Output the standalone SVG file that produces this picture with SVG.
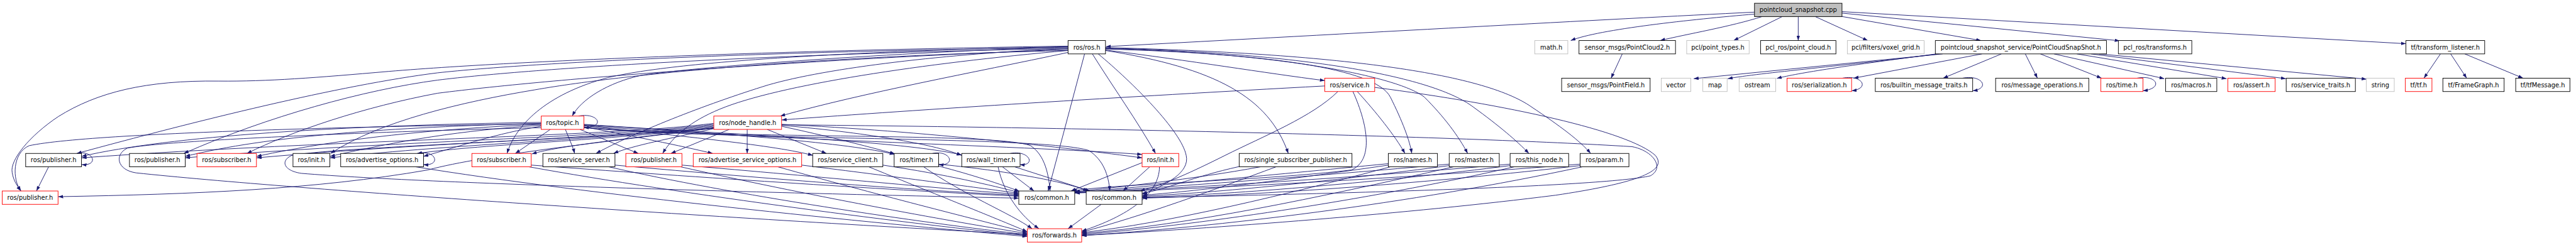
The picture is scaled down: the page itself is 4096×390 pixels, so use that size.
<svg xmlns="http://www.w3.org/2000/svg" width="4096" height="390" viewBox="0 0 4096 390">
<defs>
<style>
.n rect{fill:#fff;stroke:#000;stroke-width:1.2}
.n.r rect{stroke:#ff0000}
.n.g rect{stroke:#bfbfbf}
.n text{font-family:"DejaVu Sans","Liberation Sans",sans-serif;font-size:12.8px;text-anchor:middle;fill:#000}
.e path{fill:none;stroke:#191970;stroke-width:1.2;marker-end:url(#a)}
</style>
<marker id="a" markerUnits="userSpaceOnUse" viewBox="0 0 10 7" refX="10" refY="3.5" markerWidth="10" markerHeight="7" orient="auto"><path d="M0,0 L10,3.5 L0,7 z" fill="#191970"/></marker>
</defs>
<rect width="4096" height="390" fill="#fff"/>
<g transform="scale(0.773)">
<g id="connectors" class="e">
<path d="M3609,25 C3300,40 2800,68 2275,96"/>
<path d="M3609,29 C3480,40 3290,60 3231,83.5"/>
<path d="M3625,34 C3560,55 3470,70 3415,83.5"/>
<path d="M3666,34.2 L3566,83.5"/>
<path d="M3699,34.2 L3699,83.5"/>
<path d="M3734,34.2 L3842,83.5"/>
<path d="M3789,34 L4075,83.5"/>
<path d="M3789,27 L4360,84"/>
<path d="M3789,24 L4949,90"/>
<path d="M3337,111 L3314,161"/>
<path d="M3996,111 L3484,162"/>
<path d="M3988,111 C3800,135 3620,150 3554,162"/>
<path d="M3983,111 C3800,135 3700,150 3655,161.5"/>
<path d="M4077,111 L3813,161"/>
<path d="M4117,111 L3997,161"/>
<path d="M4166,111 L4191,161"/>
<path d="M4197,111 L4323,161"/>
<path d="M4225,111 L4452,162"/>
<path d="M4272,111 L4580,162"/>
<path d="M4301,111 L4702,162"/>
<path d="M4318,111 L4868,163"/>
<path d="M5020,111 L4986,161"/>
<path d="M5041,111 L5074,161"/>
<path d="M5070,111 L5190,161"/>
<path d="M3790,161 C3830,153 3848,182 3809,187"/>
<path d="M4037,161 C4077,153 4095,182 4058,187"/>
<path d="M4396,161 C4436,153 4452,182 4408,187"/>
<path d="M1190,239 C1230,231 1248,262 1201,263"/>
<path d="M158,316 C192,308 205,342 168,339"/>
<path d="M862,316 C896,308 909,342 871,339"/>
<path d="M1918,316 C1955,308 1968,342 1931,339"/>
<path d="M2078,316 C2118,308 2132,342 2098,339"/>
<path d="M2197,97 C1900,105 1450,135 1320,155 C1250,170 1195,205 1177,239"/>
<path d="M2197,96 C1800,104 1400,124 1250,160 C1120,195 1060,260 1043,316"/>
<path d="M2197,100 C1950,110 1700,140 1580,175 C1450,215 1300,275 1226,316"/>
<path d="M2197,104 C1900,130 1600,175 1480,225 C1420,250 1385,280 1363,316"/>
<path d="M2197,108 C2000,150 1780,190 1605,239"/>
<path d="M2197,95 C1700,102 1100,122 800,147 C650,160 550,168 450,167 C300,165 200,190 120,240 C60,280 20,330 25,355 C28,375 38,385 43,393.3"/>
<path d="M2197,98 C1600,105 1100,128 900,150 C700,175 400,250 158,316"/>
<path d="M2197,100 C1600,110 1100,140 900,165 C750,185 550,240 378,316"/>
<path d="M2197,102 C1700,120 1150,160 900,192 C750,220 600,270 508,316"/>
<path d="M2197,104 C1700,115 1300,150 1100,185 C950,210 780,250 680,316"/>
<path d="M2274,103 C2450,125 2600,150 2725,166"/>
<path d="M2274,104 C2500,140 2610,200 2650,316"/>
<path d="M2274,101 C2600,110 2830,140 2860,200 C2885,250 2900,290 2904,316"/>
<path d="M2274,100 C2650,110 2880,160 2930,200 C2970,240 3000,280 3019,316"/>
<path d="M2274,99 C2700,110 2950,160 3030,220 C3085,260 3120,290 3145,316"/>
<path d="M2274,98 C2750,110 3050,150 3150,220 C3210,260 3250,290 3272,316"/>
<path d="M2247,111 C2290,180 2340,250 2377,316"/>
<path d="M2231,111 L2156,393.3"/>
<path d="M2259,111 C2330,170 2430,270 2440,320 C2448,355 2400,380 2350,400"/>
<path d="M2725,177 C2300,200 1900,225 1608,247"/>
<path d="M2792,188.5 C2830,230 2870,280 2890,316"/>
<path d="M2752,188.5 C2700,240 2600,280 2520,320 C2450,355 2400,378 2345,393.3"/>
<path d="M2783,188.5 C2815,260 2825,330 2780,350 C2600,372 2300,378 2205,393.3"/>
<path d="M2828,180 C3100,215 3350,270 3405,320 C3430,350 3380,375 3200,402 C2900,440 2500,470 2225,485"/>
<path d="M1113,252 C700,258 350,280 168,322"/>
<path d="M1113,254 C800,262 550,280 381,322"/>
<path d="M1113,256 C900,265 700,285 528,322"/>
<path d="M1113,258 C950,268 820,290 679,322"/>
<path d="M1113,260 C1020,275 950,300 871,322"/>
<path d="M1113,255 C900,258 200,270 60,300 C25,315 25,370 43,393.3"/>
<path d="M1132,266.5 L1060,316"/>
<path d="M1163,266.5 C1170,285 1178,300 1182,316"/>
<path d="M1193,266.5 L1313,316"/>
<path d="M1201,261 C1300,280 1400,300 1466,316"/>
<path d="M1201,259 C1400,280 1600,300 1672,320"/>
<path d="M1201,257 C1500,275 1750,295 1840,318"/>
<path d="M1201,256 C1550,280 1850,290 1978,319"/>
<path d="M1201,258 C1500,285 2100,300 2349.3,318"/>
<path d="M1113,263 C800,270 350,288 262,305 C235,318 240,350 280,356 C600,390 1500,450 2113,483"/>
<path d="M1201,262 C1500,288 2050,272 2120,300 C2150,320 2157,360 2160,393.3"/>
<path d="M1201,263 C1500,290 2150,280 2240,310 C2270,330 2280,360 2283,393.3"/>
<path d="M1468,254 C1250,282 700,287 168,325"/>
<path d="M1468,256 C1250,284 800,290 381,325"/>
<path d="M1468,258 C1250,286 900,292 528,325"/>
<path d="M1468,260 C1250,288 950,295 679,325"/>
<path d="M1468,262 C1250,290 1000,296 858,316"/>
<path d="M1468,264 C1250,292 1000,318 880,350 C650,390 400,400 120,405"/>
<path d="M1468,263 C1300,285 1150,300 1094,317"/>
<path d="M1468,265 C1380,285 1300,300 1262,316"/>
<path d="M1500,266.5 L1380,316"/>
<path d="M1537,266.5 L1537,316"/>
<path d="M1578,266.5 L1700,316"/>
<path d="M1607.7,260 C1700,280 1780,300 1841,317"/>
<path d="M1607.7,258 C1800,275 1930,300 1978,320"/>
<path d="M1607.7,256 C1900,270 2200,305 2349.3,325"/>
<path d="M1468,264 C1200,288 700,302 600,320 C575,332 585,352 620,357 C900,380 1700,400 2095.7,408"/>
<path d="M1607.7,257 C2200,262 3000,280 3357,302 C3400,310 3425,345 3395,362 C3300,385 2700,400 2350,407"/>
<path d="M100,343.5 L75,393.3"/>
<path d="M855,343.5 C1200,400 1800,460 2113,487"/>
<path d="M1093,340 C1500,370 1900,395 2095.7,404"/>
<path d="M1088,343.5 C1400,400 1900,465 2113,485"/>
<path d="M1265,340 C1600,370 1900,393 2095.7,402"/>
<path d="M1252,343.5 C1500,400 1900,460 2113,483"/>
<path d="M1402.7,340 C1700,365 1950,390 2095.7,400"/>
<path d="M1400,343.5 C1650,400 1950,455 2113,481"/>
<path d="M1649,340 C1850,365 2000,385 2095.7,398"/>
<path d="M1600,343.5 C1800,400 2000,450 2113,479"/>
<path d="M1816,340 C1950,360 2040,382 2095.7,396"/>
<path d="M1787,343.5 C1900,390 2050,450 2113,477"/>
<path d="M1900,343.5 C1980,400 2080,440 2123,471"/>
<path d="M1930.7,338 C2050,350 2180,370 2238,393.3"/>
<path d="M1930.7,342 C2000,360 2060,380 2097,394"/>
<path d="M2053,343.5 C2065,400 2100,445 2137,471"/>
<path d="M2062,343.5 L2127,393.3"/>
<path d="M2087,343.5 L2242,393.3"/>
<path d="M2349.3,335 L2203,393.3"/>
<path d="M2365,343.5 L2310,393.3"/>
<path d="M2385,343.5 C2385,400 2320,445 2225,476"/>
<path d="M2549,343 C2450,365 2400,390 2349.3,398"/>
<path d="M2625,343.5 C2500,390 2350,445 2225,478"/>
<path d="M2593,343.5 C2450,370 2300,385 2211,395"/>
<path d="M2856,337 C2600,362 2350,385 2211,396"/>
<path d="M2856,340 C2650,370 2450,395 2349.3,402"/>
<path d="M2860,343.5 C2650,400 2400,460 2225,479"/>
<path d="M2981,338 C2700,363 2400,386 2211,396.5"/>
<path d="M2981,341 C2750,372 2500,397 2349.3,404"/>
<path d="M2990,343.5 C2700,410 2450,462 2225,481"/>
<path d="M3106.3,338 C2800,365 2450,387 2211,397"/>
<path d="M3106.3,341 C2850,374 2550,400 2349.3,406"/>
<path d="M3115,343.5 C2800,415 2450,465 2225,483"/>
<path d="M3250.3,338 C2900,366 2500,388 2211,397.5"/>
<path d="M3250.3,341 C2950,376 2600,402 2349.3,408"/>
<path d="M3255,343.5 C2900,420 2500,468 2225,485"/>
<path d="M2265,421 L2197,471"/>
</g>
<g id="nodes">
<g id="n_cpp" class="n"><rect x="3609" y="6.7" width="180" height="27.5" style="fill:#bfbfbf"/><text x="3699" y="25">pointcloud_snapshot.cpp</text></g>
<g id="n_ros" class="n"><rect x="2197" y="83.5" width="77" height="27.5"/><text x="2235.5" y="101.8">ros/ros.h</text></g>
<g id="n_math" class="n g"><rect x="3157" y="83.5" width="68" height="27.5"/><text x="3191" y="101.8">math.h</text></g>
<g id="n_pc2" class="n"><rect x="3248" y="83.5" width="198.5" height="27.5"/><text x="3347.2" y="101.8">sensor_msgs/PointCloud2.h</text></g>
<g id="n_ptypes" class="n g"><rect x="3469.5" y="83.5" width="128.5" height="27.5"/><text x="3533.7" y="101.8">pcl/point_types.h</text></g>
<g id="n_pclcloud" class="n"><rect x="3621.5" y="83.5" width="155" height="27.5"/><text x="3699" y="101.8">pcl_ros/point_cloud.h</text></g>
<g id="n_voxel" class="n g"><rect x="3800" y="83.5" width="158" height="27.5"/><text x="3879" y="101.8">pcl/filters/voxel_grid.h</text></g>
<g id="n_snap" class="n"><rect x="3981" y="83.5" width="352" height="27.5"/><text x="4157" y="101.8">pointcloud_snapshot_service/PointCloudSnapShot.h</text></g>
<g id="n_transforms" class="n"><rect x="4357.5" y="83.5" width="151" height="27.5"/><text x="4433" y="101.8">pcl_ros/transforms.h</text></g>
<g id="n_tfl" class="n"><rect x="4949" y="83.5" width="162" height="27.5"/><text x="5030" y="101.8">tf/transform_listener.h</text></g>
<g id="n_service" class="n r"><rect x="2725" y="161" width="102.7" height="27.5"/><text x="2776.3" y="179.3">ros/service.h</text></g>
<g id="n_pfield" class="n"><rect x="3212.3" y="161" width="182" height="27.5"/><text x="3303.3" y="179.3">sensor_msgs/PointField.h</text></g>
<g id="n_vector" class="n g"><rect x="3417.2" y="161" width="60.8" height="27.5"/><text x="3447.6" y="179.3">vector</text></g>
<g id="n_map" class="n g"><rect x="3502.7" y="161" width="50" height="27.5"/><text x="3527.7" y="179.3">map</text></g>
<g id="n_ostream" class="n g"><rect x="3577.4" y="161" width="75.2" height="27.5"/><text x="3615" y="179.3">ostream</text></g>
<g id="n_serial" class="n r"><rect x="3676" y="161" width="132.7" height="27.5"/><text x="3742.3" y="179.3">ros/serialization.h</text></g>
<g id="n_builtin" class="n"><rect x="3857.5" y="161" width="200.3" height="27.5"/><text x="3957.6" y="179.3">ros/builtin_message_traits.h</text></g>
<g id="n_msgops" class="n"><rect x="4105" y="161" width="191.6" height="27.5"/><text x="4200.8" y="179.3">ros/message_operations.h</text></g>
<g id="n_time" class="n r"><rect x="4321.3" y="161" width="86.7" height="27.5"/><text x="4364.6" y="179.3">ros/time.h</text></g>
<g id="n_macros" class="n"><rect x="4454.6" y="161" width="105.4" height="27.5"/><text x="4507.3" y="179.3">ros/macros.h</text></g>
<g id="n_assert" class="n r"><rect x="4582.6" y="161" width="97.4" height="27.5"/><text x="4631.3" y="179.3">ros/assert.h</text></g>
<g id="n_svctraits" class="n"><rect x="4702.7" y="161" width="142.3" height="27.5"/><text x="4773.8" y="179.3">ros/service_traits.h</text></g>
<g id="n_string" class="n g"><rect x="4867.6" y="161" width="57.4" height="27.5"/><text x="4896.3" y="179.3">string</text></g>
<g id="n_tf" class="n r"><rect x="4947.8" y="161" width="54.7" height="27.5"/><text x="4975.1" y="179.3">tf/tf.h</text></g>
<g id="n_framegraph" class="n"><rect x="5025" y="161" width="126" height="27.5"/><text x="5088" y="179.3">tf/FrameGraph.h</text></g>
<g id="n_tfmsg" class="n"><rect x="5174.8" y="161" width="111.5" height="27.5"/><text x="5230.5" y="179.3">tf/tfMessage.h</text></g>
<g id="n_topic" class="n r"><rect x="1113.3" y="239" width="87.7" height="27.5"/><text x="1157.1" y="257.3">ros/topic.h</text></g>
<g id="n_nh" class="n r"><rect x="1468.3" y="239" width="139.4" height="27.5"/><text x="1538" y="257.3">ros/node_handle.h</text></g>
<g id="n_pub1" class="n"><rect x="52.8" y="316" width="114.8" height="27.5"/><text x="110.2" y="334.3">ros/publisher.h</text></g>
<g id="n_pub2" class="n"><rect x="266.3" y="316" width="114.8" height="27.5"/><text x="323.7" y="334.3">ros/publisher.h</text></g>
<g id="n_sub1" class="n r"><rect x="405.2" y="316" width="122.3" height="27.5"/><text x="466.3" y="334.3">ros/subscriber.h</text></g>
<g id="n_init1" class="n"><rect x="602.7" y="316" width="75.8" height="27.5"/><text x="640.6" y="334.3">ros/init.h</text></g>
<g id="n_advopt" class="n"><rect x="700.8" y="316" width="170.5" height="27.5"/><text x="786" y="334.3">ros/advertise_options.h</text></g>
<g id="n_sub2" class="n r"><rect x="970.7" y="316" width="122" height="27.5"/><text x="1031.7" y="334.3">ros/subscriber.h</text></g>
<g id="n_svcsrv" class="n"><rect x="1116.7" y="316" width="148.3" height="27.5"/><text x="1190.8" y="334.3">ros/service_server.h</text></g>
<g id="n_pub3" class="n r"><rect x="1287.3" y="316" width="115.4" height="27.5"/><text x="1345" y="334.3">ros/publisher.h</text></g>
<g id="n_advsvc" class="n r"><rect x="1426" y="316" width="223" height="27.5"/><text x="1537.5" y="334.3">ros/advertise_service_options.h</text></g>
<g id="n_svccli" class="n"><rect x="1671.7" y="316" width="144.3" height="27.5"/><text x="1743.8" y="334.3">ros/service_client.h</text></g>
<g id="n_timer" class="n"><rect x="1839.3" y="316" width="91.4" height="27.5"/><text x="1885" y="334.3">ros/timer.h</text></g>
<g id="n_walltimer" class="n"><rect x="1978.3" y="316" width="120" height="27.5"/><text x="2038.3" y="334.3">ros/wall_timer.h</text></g>
<g id="n_init2" class="n r"><rect x="2349.3" y="316" width="75.4" height="27.5"/><text x="2387" y="334.3">ros/init.h</text></g>
<g id="n_single" class="n"><rect x="2549" y="316" width="232" height="27.5"/><text x="2665" y="334.3">ros/single_subscriber_publisher.h</text></g>
<g id="n_names" class="n"><rect x="2855.8" y="316" width="101" height="27.5"/><text x="2906.3" y="334.3">ros/names.h</text></g>
<g id="n_master" class="n"><rect x="2981" y="316" width="103" height="27.5"/><text x="3032.5" y="334.3">ros/master.h</text></g>
<g id="n_thisnode" class="n"><rect x="3106.3" y="316" width="120.4" height="27.5"/><text x="3166.5" y="334.3">ros/this_node.h</text></g>
<g id="n_param" class="n"><rect x="3250.3" y="316" width="100.4" height="27.5"/><text x="3300.5" y="334.3">ros/param.h</text></g>
<g id="n_pub5" class="n r"><rect x="4.6" y="393.3" width="114.8" height="27.5"/><text x="62" y="411.6">ros/publisher.h</text></g>
<g id="n_common1" class="n"><rect x="2095.7" y="393.3" width="115" height="27.5"/><text x="2153.2" y="411.6">ros/common.h</text></g>
<g id="n_common2" class="n"><rect x="2234.3" y="393.3" width="115" height="27.5"/><text x="2291.8" y="411.6">ros/common.h</text></g>
<g id="n_fwd" class="n r"><rect x="2113.3" y="471" width="111.7" height="27.5"/><text x="2169.1" y="489.3">ros/forwards.h</text></g>
</g>
</g>
</svg>
